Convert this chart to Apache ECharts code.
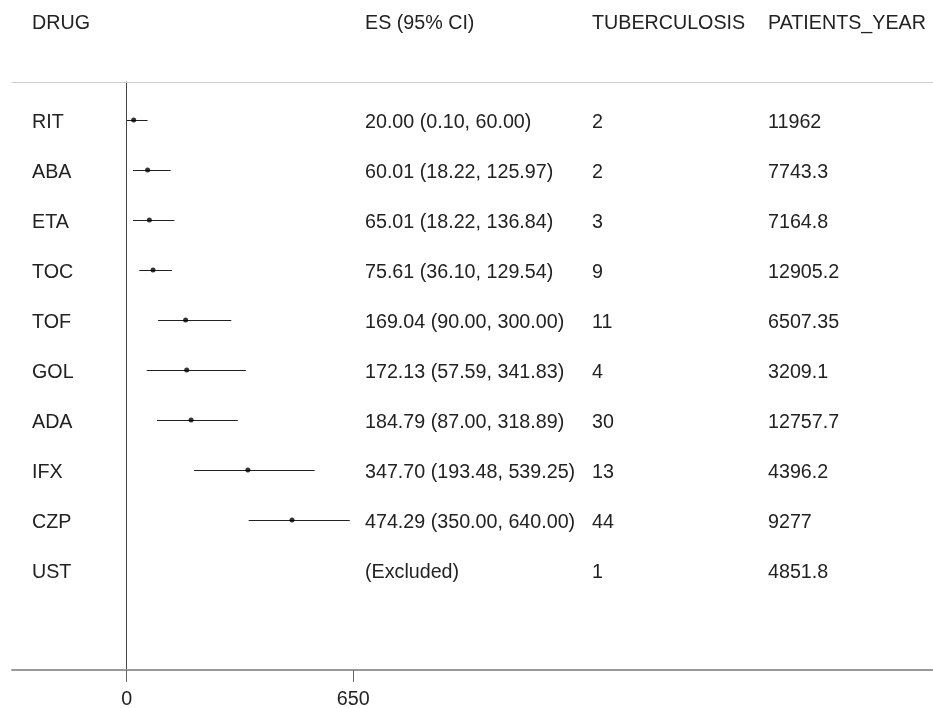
<!DOCTYPE html>
<html>
<head>
<meta charset="utf-8">
<script src="https://cdn.jsdelivr.net/npm/echarts@6/dist/echarts.min.js"></script>
<style>
html,body{margin:0;padding:0;background:#fff;}
#chart{width:933px;height:708px;}
</style>
</head>
<body>
<div id="chart"></div>
<script>
var drugs = ['RIT','ABA','ETA','TOC','TOF','GOL','ADA','IFX','CZP','UST'];
var es    = [20.00, 60.01, 65.01, 75.61, 169.04, 172.13, 184.79, 347.70, 474.29, null];
var lower = [0.10, 18.22, 18.22, 36.10, 90.00, 57.59, 87.00, 193.48, 350.00, null];
var upper = [60.00, 125.97, 136.84, 129.54, 300.00, 341.83, 318.89, 539.25, 640.00, null];
var tb    = ['2','2','3','9','11','4','30','13','44','1'];
var py    = ['11962','7743.3','7164.8','12905.2','6507.35','3209.1','12757.7','4396.2','9277','4851.8'];
var headers = ['DRUG','ES (95% CI)','TUBERCULOSIS','PATIENTS_YEAR'];
var xTicks = [0, 650];

var FONT = '"Liberation Sans", Arial, sans-serif';
var FS = 19.7;
var TXT = '#222';
var colX = [32, 365, 592, 768];

function esLabel(i){
  if (es[i] == null) return '(Excluded)';
  return es[i].toFixed(2) + ' (' + lower[i].toFixed(2) + ', ' + upper[i].toFixed(2) + ')';
}

var ciData = [], ptData = [], rowData = [];
for (var i = 0; i < drugs.length; i++) {
  if (es[i] != null) {
    ciData.push([lower[i], upper[i], i]);
    ptData.push([es[i], i]);
  }
  rowData.push([0, i]);
}

var chart = echarts.init(document.getElementById('chart'), null, {renderer:'canvas'});
chart.setOption({
  animation: false,
  backgroundColor: '#fff',
  grid: {left: 12, right: 0, top: 82, bottom: 38, containLabel: false, outerBoundsMode: 'none'},
  xAxis: [{
    type: 'value', position: 'bottom', min: -329, max: 2313,
    axisLine: {show: true, onZero: false, lineStyle: {color: '#999', width: 2}},
    axisTick: {show: true, customValues: xTicks, length: 12, lineStyle: {color: '#666', width: 1}},
    axisLabel: {show: true, customValues: xTicks, margin: 20, color: TXT, fontFamily: FONT, fontSize: FS},
    splitLine: {show: false}
  }, {
    type: 'value', position: 'top', min: -329, max: 2313,
    axisLine: {show: true, onZero: false, lineStyle: {color: '#ccc', width: 1}},
    axisTick: {show: false}, axisLabel: {show: false}, splitLine: {show: false}
  }],
  yAxis: {
    type: 'value', min: -0.76, max: 11, inverse: true,
    axisLine: {show: true, onZero: true, lineStyle: {color: '#444', width: 1}},
    axisTick: {show: false}, axisLabel: {show: false}, splitLine: {show: false}
  },
  graphic: headers.map(function(h, k){
    return {type: 'text', left: colX[k], top: 14,
      style: {text: h, fill: TXT, font: FS + 'px ' + FONT}};
  }),
  series: [{
    type: 'custom',
    data: ciData,
    renderItem: function(params, api){
      var a = api.coord([api.value(0), api.value(2)]);
      var b = api.coord([api.value(1), api.value(2)]);
      var y = Math.round(a[1]) + 0.5;
      return {type: 'line', shape: {x1: a[0], y1: y, x2: b[0], y2: y},
        style: {stroke: '#222', lineWidth: 1}};
    }
  }, {
    type: 'scatter',
    data: ptData,
    symbol: 'circle', symbolSize: 5,
    itemStyle: {color: '#000'},
    z: 3
  }, {
    type: 'custom',
    data: rowData,
    renderItem: function(params, api){
      var i = api.value(1);
      var y = api.coord([0, i])[1] + 3;
      var texts = [drugs[i], esLabel(i), tb[i], py[i]];
      return {type: 'group', children: texts.map(function(t, k){
        return {type: 'text', x: colX[k], y: y,
          style: {text: t, fill: TXT, font: FS + 'px ' + FONT, verticalAlign: 'middle', align: 'left'}};
      })};
    }
  }]
});
</script>
</body>
</html>
